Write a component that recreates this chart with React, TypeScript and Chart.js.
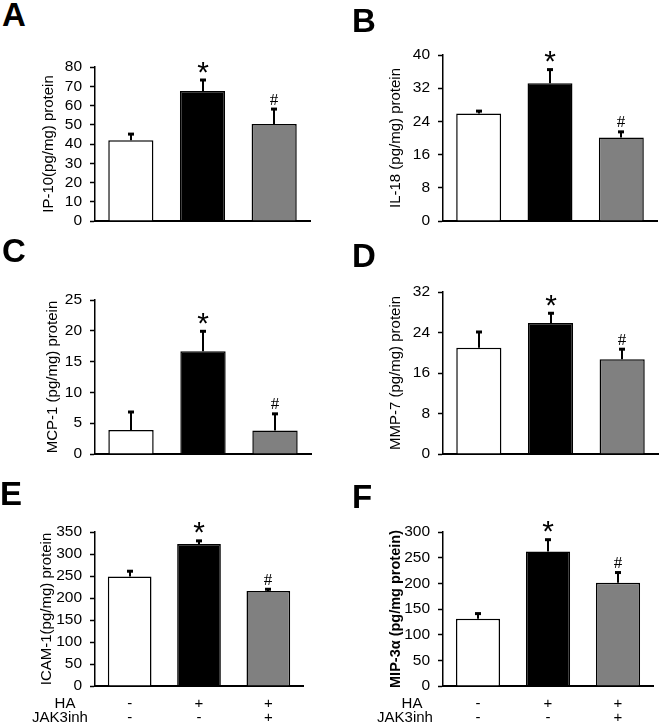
import React, { useEffect, useRef } from 'react';
import { Chart, registerables } from 'chart.js';

Chart.register(...registerables);

// ---- data ----
const categories = ['Control', 'HA', 'HA + JAK3inh'];
const rowNames = ['HA', 'JAK3inh'];
const haRow = ['-', '+', '+'];
const jak3Row = ['-', '-', '+'];
const markers = ['', '*', '#'];
const barColors = ['#ffffff', '#000000', '#808080'];

const ip10Mean = [42, 67.5, 50.4];
const ip10Err = [3.4, 6, 8];
const ip10Ticks = [0, 10, 20, 30, 40, 50, 60, 70, 80];

const il18Mean = [25.9, 33.2, 20.1];
const il18Err = [0.7, 3.4, 1.5];
const il18Ticks = [0, 8, 16, 24, 32, 40];

const mcp1Mean = [3.9, 16.7, 3.8];
const mcp1Err = [3, 3.3, 2.8];
const mcp1Ticks = [0, 5, 10, 15, 20, 25];

const mmp7Mean = [21, 25.9, 18.7];
const mmp7Err = [3.2, 2.0, 2.1];
const mmp7Ticks = [0, 8, 16, 24, 32];

const icam1Mean = [249, 323, 216];
const icam1Err = [13, 8, 5];
const icam1Ticks = [0, 50, 100, 150, 200, 250, 300, 350];

const mip3aMean = [131, 262, 201];
const mip3aErr = [11, 24, 21];
const mip3aTicks = [0, 50, 100, 150, 200, 250, 300];

const FONT = "'Liberation Sans', Arial, sans-serif";

type Box = { left: number; top: number; width: number; height: number };
type Area = { axisX: number; top: number; bottom: number; right: number; titleCx: number };

type PanelProps = {
  means: number[];
  errs: number[];
  ticks: number[];
  title: string;
  titleBold?: boolean;
  box: Box;
  area: Area;
  rows?: boolean;
  rowCx?: number[];
};

const ROW_PAD = 11;
const ROW_LH = 14;

function Panel({ means, errs, ticks, title, titleBold, box, area, rows, rowCx }: PanelProps) {
  const ref = useRef<HTMLCanvasElement>(null);
  useEffect(() => {
    const xH = rows ? 36 : 0;
    const padTop = area.top - box.top;
    const padBottom = box.top + box.height - area.bottom - xH;
    const padRight = box.left + box.width - area.right;
    const yW = area.axisX - box.left;
    const titleSize = titleBold ? 14.5 : 15;
    const titleLH = titleSize * 1.2;
    const titlePadTop = area.titleCx - box.left - titleLH / 2;

    const errorPlugin = {
      id: 'errorBars',
      afterDatasetsDraw(chart: any) {
        const ctx = chart.ctx;
        const meta = chart.getDatasetMeta(0);
        const y = chart.scales.y;
        ctx.save();
        meta.data.forEach((bar: any, i: number) => {
          const x = Math.round(bar.x);
          const top = y.getPixelForValue(means[i]);
          const hi = y.getPixelForValue(means[i] + errs[i]);
          ctx.strokeStyle = '#000';
          ctx.lineWidth = 2;
          ctx.beginPath();
          ctx.moveTo(x, top);
          ctx.lineTo(x, hi);
          ctx.stroke();
          ctx.fillStyle = '#000';
          ctx.fillRect(x - 3, hi - 1, 6, 3);
          const m = markers[i];
          ctx.textAlign = 'center';
          ctx.textBaseline = 'alphabetic';
          if (m === '*') {
            ctx.font = `30px ${FONT}`;
            ctx.fillText(m, x, hi + 2);
          } else if (m === '#') {
            ctx.font = `17px 'Liberation Serif', 'Times New Roman', serif`;
            ctx.fillText(m, x, hi - 4);
          }
        });
        if (rows && rowCx) {
          const xs = chart.scales.x;
          ctx.font = `15px ${FONT}`;
          ctx.textAlign = 'center';
          ctx.textBaseline = 'middle';
          rowNames.forEach((name, r) => {
            ctx.fillText(name, rowCx[r] - box.left, xs.top + ROW_PAD + ROW_LH / 2 + r * ROW_LH);
          });
        }
        ctx.restore();
      },
    };

    const chart = new Chart(ref.current as HTMLCanvasElement, {
      type: 'bar',
      data: {
        labels: categories,
        datasets: [
          {
            data: means,
            backgroundColor: barColors,
            borderColor: '#000',
            borderWidth: 1.5,
            barPercentage: 0.63,
            categoryPercentage: 1,
          },
        ],
      },
      options: {
        responsive: false,
        animation: false,
        events: [],
        layout: { padding: { top: padTop, bottom: padBottom, left: 0, right: padRight } },
        plugins: { legend: { display: false }, tooltip: { enabled: false } },
        scales: {
          x: {
            grid: { display: true, drawOnChartArea: false, drawTicks: false },
            border: { display: true, color: '#000', width: 2 },
            ticks: {
              display: !!rows,
              color: '#000',
              padding: ROW_PAD,
              autoSkip: false,
              font: { family: FONT, size: 15, lineHeight: `${ROW_LH}px` } as any,
              callback: (_v: any, i: number) => [haRow[i], jak3Row[i]],
            },
            afterFit: (s: any) => {
              s.height = xH;
              s.paddingLeft = 0;
              s.paddingRight = 0;
            },
          },
          y: {
            min: ticks[0],
            max: ticks[ticks.length - 1],
            afterBuildTicks: (s: any) => {
              s.ticks = ticks.map((v) => ({ value: v }));
            },
            grid: {
              drawOnChartArea: false,
              drawTicks: true,
              tickLength: 5,
              tickColor: '#000',
              tickWidth: 1.5,
            },
            border: { display: true, color: '#000', width: 1.5 },
            ticks: {
              color: '#000',
              padding: 8,
              autoSkip: false,
              font: { family: FONT, size: 15.5 },
            },
            title: {
              display: true,
              text: title,
              color: '#000',
              font: { family: FONT, size: titleSize, weight: titleBold ? 'bold' : 'normal' },
              padding: { top: titlePadTop, bottom: 0 },
            },
            afterFit: (s: any) => {
              s.width = yW;
              s.paddingTop = 0;
              s.paddingBottom = 0;
            },
          },
        },
      },
      plugins: [errorPlugin],
    });
    return () => chart.destroy();
  }, []);
  return (
    <canvas
      ref={ref}
      width={box.width}
      height={box.height}
      style={{ position: 'absolute', left: box.left, top: box.top, display: 'block' }}
    />
  );
}

const letterStyle = (left: number, capTop: number): React.CSSProperties => ({
  position: 'absolute',
  left,
  top: capTop - 4,
  fontFamily: FONT,
  fontWeight: 'bold',
  fontSize: 33,
  lineHeight: '33px',
  color: '#000',
});

export default function App() {
  return (
    <div style={{ position: 'absolute', left: 0, top: 0, width: 659, height: 728, background: '#fff' }}>
      <Panel
        means={ip10Mean}
        errs={ip10Err}
        ticks={ip10Ticks}
        title="IP-10(pg/mg) protein"
        box={{ left: 0, top: 40, width: 330, height: 200 }}
        area={{ axisX: 95, top: 67, bottom: 221, right: 310, titleCx: 49 }}
      />
      <Panel
        means={il18Mean}
        errs={il18Err}
        ticks={il18Ticks}
        title="IL-18 (pg/mg) protein"
        box={{ left: 330, top: 30, width: 329, height: 210 }}
        area={{ axisX: 443, top: 55, bottom: 221, right: 657, titleCx: 396 }}
      />
      <Panel
        means={mcp1Mean}
        errs={mcp1Err}
        ticks={mcp1Ticks}
        title="MCP-1 (pg/mg) protein"
        box={{ left: 0, top: 265, width: 330, height: 205 }}
        area={{ axisX: 95, top: 300, bottom: 454, right: 311, titleCx: 53 }}
      />
      <Panel
        means={mmp7Mean}
        errs={mmp7Err}
        ticks={mmp7Ticks}
        title="MMP-7 (pg/mg) protein"
        box={{ left: 330, top: 265, width: 329, height: 205 }}
        area={{ axisX: 443, top: 292, bottom: 454, right: 658, titleCx: 396 }}
      />
      <Panel
        means={icam1Mean}
        errs={icam1Err}
        ticks={icam1Ticks}
        title="ICAM-1(pg/mg) protein"
        box={{ left: 0, top: 505, width: 330, height: 223 }}
        area={{ axisX: 95, top: 532, bottom: 686, right: 303, titleCx: 47 }}
        rows
        rowCx={[65, 60]}
      />
      <Panel
        means={mip3aMean}
        errs={mip3aErr}
        ticks={mip3aTicks}
        title="MIP-3α (pg/mg protein)"
        titleBold
        box={{ left: 330, top: 505, width: 329, height: 223 }}
        area={{ axisX: 443, top: 532, bottom: 686, right: 653, titleCx: 396 }}
        rows
        rowCx={[412, 405]}
      />
      <div style={letterStyle(2, 2)}>A</div>
      <div style={letterStyle(352, 8)}>B</div>
      <div style={letterStyle(2, 238)}>C</div>
      <div style={letterStyle(352, 243)}>D</div>
      <div style={letterStyle(0, 481)}>E</div>
      <div style={letterStyle(352, 484)}>F</div>
    </div>
  );
}
